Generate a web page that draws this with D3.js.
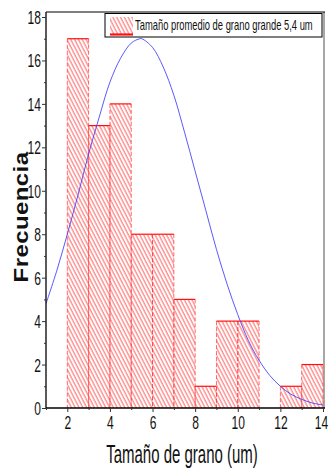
<!DOCTYPE html>
<html>
<head>
<meta charset="utf-8">
<script src="https://cdn.jsdelivr.net/npm/d3@7/dist/d3.min.js"></script>
<style>
  html, body { margin: 0; padding: 0; background: #fff; }
  svg { display: block; }
</style>
</head>
<body>
<script>
// Histogram bins (lower edge, upper edge) and counts
const binStarts = [2, 3, 4, 5, 6, 7, 8, 9, 10, 11, 12, 13];
const binEnds   = [3, 4, 5, 6, 7, 8, 9, 10, 11, 12, 13, 14];
const counts    = [17, 13, 14, 8, 8, 5, 1, 4, 4, 0, 1, 2];

// Normal-distribution fit curve, sampled points
const curveX = [1, 1.5, 2, 2.5, 3, 3.5, 4, 4.5, 5, 5.4, 5.5, 6, 6.5, 7, 7.5, 8, 8.5, 9, 9.5, 10, 10.5, 11, 11.5, 12, 12.5, 13, 13.5, 14];
const curveY = [4.8, 6.3, 8.0, 9.8, 11.7, 13.4, 15.0, 16.1, 16.8, 17.0, 17.0, 16.6, 15.7, 14.4, 12.7, 10.9, 9.1, 7.3, 5.7, 4.3, 3.1, 2.2, 1.5, 1.0, 0.63, 0.4, 0.23, 0.14];

// Axis ticks
const xTicks = [2, 4, 6, 8, 10, 12, 14];
const xMinor = [1, 3, 5, 7, 9, 11, 13];
const yTicks = [0, 2, 4, 6, 8, 10, 12, 14, 16, 18];
const yMinor = [1, 3, 5, 7, 9, 11, 13, 15, 17];

const legendLabel = "Tamaño promedio de grano grande 5,4 um";
const xTitle = "Tamaño de grano (um)";
const yTitle = "Frecuencia";

const W = 329, H = 475;
const plotL = 46, plotR = 323, plotT = 12, plotB = 408;
const FONT = "'Liberation Sans', Arial, sans-serif";

const svg = d3.select("body").append("svg").attr("width", W).attr("height", H);

const x = d3.scaleLinear().domain([1, 14]).range([plotL, plotR]);
const y = d3.scaleLinear().domain([0, 18]).range([plotB, 17]);

// Diagonal hatch used by the bars
const defs = svg.append("defs");
const pat = defs.append("pattern")
  .attr("id", "hatch")
  .attr("patternUnits", "userSpaceOnUse")
  .attr("width", 3.4).attr("height", 10)
  .attr("patternTransform", "rotate(-27)");
pat.append("rect").attr("width", 3.4).attr("height", 10).attr("fill", "#fff");
pat.append("line").attr("x1", 1).attr("y1", 0).attr("x2", 1).attr("y2", 10)
  .attr("stroke", "#ff8585").attr("stroke-width", 1.3);

defs.append("clipPath").attr("id", "plotclip")
  .append("rect").attr("x", plotL).attr("y", plotT).attr("width", plotR - plotL).attr("height", plotB - plotT);

// Plot frame: grey right edge, black top edge
svg.append("line").attr("x1", plotR + 1).attr("x2", plotR + 1).attr("y1", plotT).attr("y2", plotB)
  .attr("stroke", "#a8a8a8").attr("stroke-width", 2);
svg.append("line").attr("x1", plotL).attr("x2", plotR + 2).attr("y1", plotT).attr("y2", plotT)
  .attr("stroke", "#000").attr("stroke-width", 1.2);

// Bars
const bins = counts.map((c, i) => ({ x0: binStarts[i], x1: binEnds[i], n: c })).filter(d => d.n > 0);
const bars = svg.append("g");
bars.selectAll("rect").data(bins).join("rect")
  .attr("x", d => x(d.x0)).attr("y", d => y(d.n))
  .attr("width", d => x(d.x1) - x(d.x0)).attr("height", d => y(0) - y(d.n))
  .attr("fill", "url(#hatch)");
// bar sides (dashed light red)
bars.selectAll("line.side").data(bins.flatMap(d => [{ xv: d.x0, n: d.n }, { xv: d.x1, n: d.n }])).join("line")
  .attr("class", "side")
  .attr("x1", d => x(d.xv)).attr("x2", d => x(d.xv))
  .attr("y1", d => y(d.n)).attr("y2", y(0))
  .attr("stroke", "#ff4040").attr("stroke-opacity", 0.75).attr("stroke-width", 1)
  .attr("stroke-dasharray", "4,2");
// bar tops (solid red)
bars.selectAll("line.top").data(bins).join("line")
  .attr("class", "top")
  .attr("x1", d => x(d.x0)).attr("x2", d => x(d.x1))
  .attr("y1", d => y(d.n)).attr("y2", d => y(d.n))
  .attr("stroke", "#ff1010").attr("stroke-width", 1.2);

// Fit curve
const pts = curveX.map((v, i) => [v, curveY[i]]);
svg.append("path")
  .attr("clip-path", "url(#plotclip)")
  .attr("d", d3.line().x(d => x(d[0])).y(d => y(d[1])).curve(d3.curveCatmullRom)(pts))
  .attr("fill", "none").attr("stroke", "#3c3cff").attr("stroke-opacity", 0.85).attr("stroke-width", 1);

// Axes
const xAxis = svg.append("g").attr("transform", `translate(0,${plotB})`)
  .call(d3.axisBottom(x).tickValues(xTicks).tickSize(4).tickFormat(d3.format("d")));
svg.append("g").attr("transform", `translate(0,${plotB})`)
  .call(d3.axisBottom(x).tickValues(xMinor).tickSize(2).tickFormat(""))
  .call(g => g.select(".domain").remove());
const yAxis = svg.append("g").attr("transform", `translate(${plotL},0)`)
  .call(d3.axisLeft(y).tickValues(yTicks).tickSize(4).tickFormat(d3.format("d")));
svg.append("g").attr("transform", `translate(${plotL},0)`)
  .call(d3.axisLeft(y).tickValues(yMinor).tickSize(2).tickFormat(""))
  .call(g => g.select(".domain").remove());

xAxis.select(".domain").attr("d", `M${plotL},0H${plotR + 2}`).attr("stroke-width", 1.3);
yAxis.select(".domain").attr("d", `M0,${plotT}V${plotB}`).attr("stroke-width", 1.3);
svg.selectAll(".tick line").attr("stroke", "#333");

// Tick labels use a horizontally condensed face
const kTick = 0.67;
xAxis.selectAll("text")
  .attr("font-family", FONT).attr("font-size", 18).attr("fill", "#111")
  .attr("x", d => (d === 14 ? -2 : 0) / kTick).attr("y", 8).attr("dy", "0.71em")
  .attr("transform", `scale(${kTick},1)`);
yAxis.selectAll("text")
  .attr("font-family", FONT).attr("font-size", 18).attr("fill", "#111")
  .attr("x", -5 / kTick).attr("dy", "0.36em")
  .attr("transform", `scale(${kTick},1)`);

// Axis titles
svg.append("g").attr("transform", "translate(182,463) scale(0.6,1)")
  .append("text").attr("text-anchor", "middle")
  .attr("font-family", FONT).attr("font-size", 25).attr("fill", "#111")
  .text(xTitle);
svg.append("g").attr("transform", "translate(28,217) rotate(-90) scale(1.14,1)")
  .append("text").attr("text-anchor", "middle")
  .attr("font-family", FONT).attr("font-weight", "bold")
  .attr("font-size", 21).attr("fill", "#111").attr("letter-spacing", 0.4)
  .text(yTitle);

// Legend
const lg = svg.append("g");
lg.append("rect").attr("x", 105).attr("y", 13.5).attr("width", 217).attr("height", 23.5)
  .attr("fill", "#fff").attr("stroke", "#000").attr("stroke-width", 1);
lg.append("rect").attr("x", 110).attr("y", 17).attr("width", 23).attr("height", 17)
  .attr("fill", "url(#hatch)");
lg.append("line").attr("x1", 110).attr("x2", 133).attr("y1", 34.5).attr("y2", 34.5)
  .attr("stroke", "#ff1010").attr("stroke-width", 2.2);
lg.append("g").attr("transform", "translate(135,30) scale(0.67,1)")
  .append("text")
  .attr("font-family", FONT).attr("font-size", 14).attr("fill", "#111")
  .text(legendLabel);
</script>
</body>
</html>
